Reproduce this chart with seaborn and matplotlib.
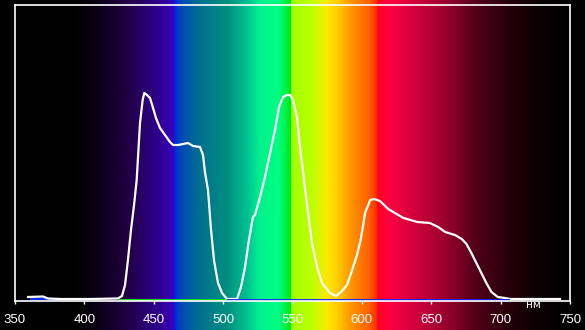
import numpy as np
import pandas as pd
import matplotlib
matplotlib.use("Agg")
import matplotlib.pyplot as plt
import seaborn as sns

# ---- data ----
wavelength = [359.4, 370.2, 373.8, 382.4, 404, 424.2, 427.1, 429.3, 431.4, 433.6, 435.8, 437.7,
              440.1, 442.0, 443.2, 445.1, 447.3, 449.5, 451.6, 454.5, 458.1, 461.7, 463.9,
              467.5, 471.1, 474.7, 478.3, 483.3, 485.5, 487.0, 489.1, 491.3, 493.4, 496.3,
              499.2, 502.8, 510.0, 512.9, 515.8, 518.6, 521.5, 523.0, 526.6, 530.2, 533.8,
              537.4, 540.3, 543.2, 546.0, 548.2, 550.4, 553.2, 555.4, 558.3, 561.2, 564.1,
              567.7, 571.3, 577.0, 581.4, 585.7, 589.3, 593.0, 596.5, 599.4, 602.3, 606.0,
              608.9, 613.0, 619.0, 625.0, 630.0, 640.0, 649.0, 655.0, 660.0, 667.1, 672.0,
              675.4, 678.9, 682.5, 686.1, 689.7, 693.4, 697.9, 703.2, 706.8, 742.8]
intensity = [3, 3.5, 1.5, 1, 1, 1.5, 4, 15, 40, 70, 95, 120,
             177, 200, 207, 205, 202, 192, 182, 172, 165, 158, 155,
             155, 156, 157, 154, 153, 145, 127, 110, 70, 40, 17,
             7, 1, 1, 13, 33, 60, 83, 85, 103, 123, 147,
             170, 193, 203, 205, 205, 200, 183, 153, 120, 87, 57,
             33, 17, 7, 4, 9, 15, 30, 45, 62, 87, 100,
             101, 99, 91, 86, 82, 78, 77, 73, 68, 65, 61,
             56, 47, 37, 27, 17, 8, 3, 2, 1, 1]

green_base_x = [425, 503]
green_base_y = [0, 0]
blue_base_x = [503, 707]
blue_base_y = [0, 0]
blue_left_x = [361, 382]
blue_left_y = [1.5, 1.5]

tick_values = [350, 400, 450, 500, 550, 600, 650, 700, 750]
unit_label = "нм"

# ---- spectrum background colours (nm, r, g, b) ----
stops = [
    (330, 0, 0, 0), (393, 0, 0, 0), (406, 8, 0, 16), (430, 32, 0, 64), (454, 48, 0, 144),
    (464, 56, 0, 192), (465, 0, 32, 224), (468, 0, 64, 192), (472, 0, 80, 176),
    (483, 0, 112, 144), (503, 0, 144, 128), (517, 0, 192, 144), (526, 0, 240, 144),
    (540, 0, 255, 128), (548.5, 0, 232, 32), (549.5, 160, 255, 0), (565, 192, 255, 0),
    (575, 255, 232, 0), (582, 255, 208, 0), (590, 255, 160, 0), (605, 255, 96, 0),
    (610.5, 255, 48, 0), (611.5, 255, 0, 32), (620, 255, 0, 64), (632, 224, 0, 64),
    (658, 160, 0, 48), (683, 80, 0, 24), (707, 37, 0, 8), (730, 8, 0, 2), (750, 0, 0, 0),
    (770, 0, 0, 0),
]
st = np.array(stops, dtype=float)

W, H = 585, 330
fig = plt.figure(figsize=(W / 100, H / 100), dpi=100, facecolor="black")

# background axes spanning whole figure, same wavelength scale
px_per_nm = 555 / 400
x0 = 350 - 15 / px_per_nm
x1 = 350 + (W - 15) / px_per_nm
bg = fig.add_axes([0, 0, 1, 1])
grid = np.linspace(x0, x1, 1500)
rgb = np.stack([np.interp(grid, st[:, 0], st[:, i]) for i in (1, 2, 3)], axis=-1) / 255.0
bg.imshow(rgb[np.newaxis, :, :], extent=[x0, x1, 0, 1], aspect="auto", interpolation="nearest")
bg.set_xlim(x0, x1)
bg.set_ylim(0, 1)
bg.axis("off")

ax = fig.add_axes([15 / W, 29 / H, 555 / W, 296.3 / H])
ax.patch.set_alpha(0)
ax.set_xlim(350, 750)
ax.set_ylim(-1, 295.3)

df = pd.DataFrame({"wavelength": wavelength, "intensity": intensity})
ax.plot(blue_left_x, blue_left_y, color="#1030ff", lw=1.6, solid_capstyle="butt")
sns.lineplot(data=df, x="wavelength", y="intensity", ax=ax, color="white", lw=1.6, sort=False)
ax.plot(green_base_x, green_base_y, color="#20e020", lw=1.3, solid_capstyle="butt")
ax.plot(blue_base_x, blue_base_y, color="#1020ff", lw=1.3, solid_capstyle="butt")

for s in ax.spines.values():
    s.set_color("white")
    s.set_linewidth(1.2)
ax.set_xticks(tick_values)
ax.set_xticklabels([str(t) for t in tick_values], fontfamily="Liberation Sans", fontsize=9.5, color="white")
ax.tick_params(axis="x", colors="white", length=2.5, width=1, pad=7)
ax.set_yticks([])
ax.set_xlabel("")
ax.set_ylabel("")

fig.text(533 / W, 1 - 305 / H, unit_label, color="white", fontsize=7.5, ha="center", va="center",
         fontfamily="DejaVu Sans")

fig.savefig("out.png", dpi=100, facecolor="black")
